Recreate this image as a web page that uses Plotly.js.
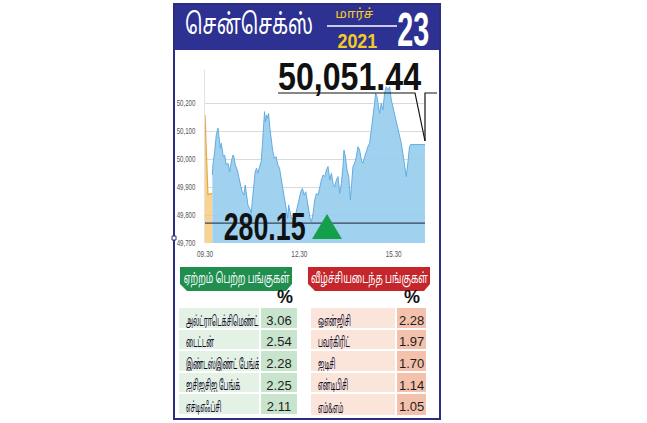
<!DOCTYPE html>
<html><head><meta charset="utf-8">
<script src="https://cdn.plot.ly/plotly-3.0.1.min.js"></script>
<style>html,body{margin:0;padding:0;background:#fff;overflow:hidden}#chart{width:647px;height:423px}</style>
</head><body><div id="chart"></div>
<script>
// ---------- data ----------
const titleText = "சென்செக்ஸ்";
const monthText = "மார்ச்";
const yearText = "2021";
const dayText = "23";
const closeValue = 50051.44;
const changeValue = 280.15;

const preOpenMinutes = [0, 1, 2.5, 4.4, 5.7, 14];
const preOpenValues  = [50157, 50090, 50025, 49932, 49873, 49877];

const sessionMinutes = [14, 15.2, 18.4, 21.6, 24.8, 26.7, 29.2, 31.1, 33, 34.9, 37.5, 40.6, 43.8, 47, 50.2, 53.3, 55.2, 57.8, 61.5, 64.1,
  67.9, 71.1, 74.3, 76.8, 79.4, 81.9, 85.1, 88.3, 90.2, 92.7, 95.9, 98.4, 101, 104.1, 107.3, 109.2, 111.8, 113.7, 115.6, 117.5,
  119.4, 121.3, 123.8, 126.3, 129.5, 132.7, 135.8, 139, 142.3, 145.3, 148.6, 151.8, 154.9, 158.1, 159.5, 161.9, 165.1, 171.4, 177.8, 182.9,
  186, 189.2, 192.4, 195.6, 198.1, 200.6, 203.2, 206.3, 209.5, 212.7, 215.9, 219, 222.2, 225.4, 228.6, 231.8, 234.9, 238.1, 241.3, 244.4,
  247.6, 250.8, 254, 257.1, 260.4, 263.4, 265.3, 268, 271.1, 274.3, 277.5, 280, 282.5, 285.7, 289, 292, 295.2, 298.5, 301.5, 304.8,
  308, 311, 314.3, 317.5, 320.6, 323.8, 325.7, 328.2, 330.9, 333.3, 336.5, 339.6, 342.9, 346, 349.2, 352.4, 355.6, 358.7, 361.9, 365.1,
  368.3, 371.4, 374.7, 377.7, 381, 384.2, 387.2, 390.5, 392.4, 420];
const sessionValues = [49943, 49979, 50026, 50086, 50110, 50074, 50038, 50056, 50026, 50008, 50014, 49979, 49985, 49955, 49990, 50014, 50008, 49979, 49961, 49943,
  49907, 49883, 49871, 49907, 49871, 49836, 49824, 49806, 49848, 49907, 49955, 49967, 49949, 49972, 49990, 50038, 50098, 50169, 50133, 50157,
  50145, 50163, 50110, 50062, 50026, 50002, 50008, 49979, 49967, 49931, 49895, 49848, 49812, 49788, 49836, 49812, 49788, 49788, 49836, 49883,
  49895, 49871, 49883, 49848, 49812, 49788, 49776, 49806, 49854, 49877, 49871, 49901, 49925, 49943, 49937, 49961, 49973, 49925, 49949, 49913,
  49901, 49925, 49937, 49877, 49913, 49973, 50032, 50008, 49961, 49937, 49854, 49913, 49973, 49985, 50008, 50044, 50032, 49996, 49985, 50008,
  50032, 50044, 50056, 50115, 50151, 50199, 50235, 50223, 50187, 50163, 50199, 50175, 50235, 50258, 50246, 50258, 50211, 50187, 50163, 50139,
  50115, 50080, 50056, 50020, 49973, 49937, 49985, 50044, 50051.44, 50051.44];

const xTickVals = [0, 180, 360];
const xTickText = ["09.30", "12.30", "15.30"];
const yTickVals = [49700, 49800, 49900, 50000, 50100, 50200];

const gainersHeader = "ஏற்றம் பெற்ற பங்குகள்";
const losersHeader = "வீழ்ச்சியடைந்த பங்குகள்";
const gainerNames = ["அல்ட்ராடெக்சிமெண்ட்", "டைட்டன்", "இண்டஸ்இண்ட் பேங்க்", "ஐசிஐசிஐ பேங்க்", "எச்டிஎஃப்சி"];
const gainerPct = ["3.06", "2.54", "2.28", "2.25", "2.11"];
const loserNames = ["ஓஎன்ஜிசி", "பவர்கிரிட்", "ஐடிசி", "என்டிபிசி", "எம்&எம்"];
const loserPct = ["2.28", "1.97", "1.70", "1.14", "1.05"];
const pctLabel = "%";

// ---------- layout helpers ----------
const W = 647, H = 423;
const X = v => v / W;
const Y = v => 1 - v / H;
const prevClose = +(closeValue - changeValue).toFixed(2);
const fmt = v => v.toLocaleString('en-US', {minimumFractionDigits: 2, maximumFractionDigits: 2});
const path = pts => pts.map((p, i) => (i ? 'L' : 'M') + X(p[0]).toFixed(5) + ',' + Y(p[1]).toFixed(5)).join(' ');
const nb = s => s.replace(/ /g, '\u00a0');

const tamil = '"Noto Sans Tamil", "Noto Sans", sans-serif';
const sans = '"Liberation Sans", Arial, sans-serif';
const clear = 'rgba(0,0,0,0)';
const EMPTY_HEADER = 16;   // height plotly gives a table without header values

const tableCommon = (names, pct, colW, fills) => ({
  type: 'table', columnwidth: colW,
  header: {values: [], fill: {color: clear}, line: {color: clear, width: 0}},
  cells: {values: [names.map(nb), pct], height: 21.6, align: ['left', 'center'],
          fill: {color: fills}, line: {color: '#ffffff', width: 2},
          font: {family: [tamil, sans], size: [14, 13], color: ['#12122e', '#1e1e1e']}}
});

const traces = [
  {type: 'scatter', mode: 'lines', x: preOpenMinutes, y: preOpenValues, fill: 'tozeroy',
   line: {color: '#e8a83e', width: 1.2}, fillcolor: 'rgba(246,196,110,0.75)', hoverinfo: 'skip'},
  {type: 'scatter', mode: 'lines', x: sessionMinutes, y: sessionValues, fill: 'tozeroy',
   line: {color: '#62ace0', width: 1}, fillcolor: 'rgba(150,205,238,0.9)', hoverinfo: 'skip'},
  Object.assign(tableCommon(gainerNames, gainerPct, [82, 38], ['#e4f1e5', '#c8e4cc']),
    {domain: {x: [X(178), X(298)], y: [Y(416), Y(307 - EMPTY_HEADER)]}}),
  Object.assign(tableCommon(loserNames, loserPct, [87, 31], ['#fbe4da', '#f4c1ac']),
    {domain: {x: [X(310), X(428)], y: [Y(416), Y(307 - EMPTY_HEADER)]}})
];

const shapes = [
  {type: 'rect', xref: 'paper', yref: 'paper', x0: X(174), x1: X(440), y0: Y(50), y1: Y(4),
   fillcolor: '#2c3192', line: {width: 0}, layer: 'below'},
  {type: 'line', xref: 'paper', yref: 'paper', x0: X(327), x1: X(397), y0: Y(26), y1: Y(26),
   line: {color: '#ffffff', width: 1.5}},
  {type: 'line', xref: 'x domain', yref: 'y', x0: 0, x1: 1, y0: prevClose, y1: prevClose,
   line: {color: '#34435a', width: 1.3}, layer: 'above'},
  {type: 'path', xref: 'paper', yref: 'paper', path: path([[278, 93], [415, 93], [425, 141]]),
   line: {color: '#111', width: 1.2}},
  {type: 'path', xref: 'paper', yref: 'paper', path: path([[425, 141], [425, 93], [437, 93]]),
   line: {color: '#111', width: 1.2}},
  {type: 'path', xref: 'paper', yref: 'paper', path: path([[312, 239], [327, 214], [342, 239]]) + ' Z',
   fillcolor: '#14a04b', line: {width: 0}},
  {type: 'path', xref: 'paper', yref: 'paper',
   path: path([[180, 267], [292, 267], [292, 284], [286, 291], [187, 291], [180, 284]]) + ' Z',
   fillcolor: '#1f8e4f', line: {width: 0}},
  {type: 'path', xref: 'paper', yref: 'paper',
   path: path([[308, 267], [430, 267], [430, 284], [424, 291], [315, 291], [308, 284]]) + ' Z',
   fillcolor: '#c4262c', line: {width: 0}},
  {type: 'rect', xref: 'paper', yref: 'paper', x0: X(174), x1: X(440), y0: Y(419), y1: Y(4),
   line: {color: '#2a2e7e', width: 2}, fillcolor: clear, layer: 'above'},
  {type: 'rect', xref: 'paper', yref: 'paper', x0: X(172), x1: X(176), y0: Y(240), y1: Y(236),
   line: {color: '#2a2e7e', width: 1}, fillcolor: '#ffffff', layer: 'above'}
];

const ann = (x, y, text, font) => ({xref: 'paper', yref: 'paper', x: X(x), y: Y(y),
  text, font, showarrow: false, xanchor: 'center', yanchor: 'middle'});

const annotations = [
  ann(249, 27, titleText, {family: tamil, size: 28, color: '#ffffff'}),
  ann(354, 15, monthText, {family: tamil, size: 13, color: '#f4cb22'}),
  ann(357, 40, '<b>' + yearText + '</b>', {family: sans, size: 21, color: '#f4cb22'}),
  ann(413, 28.5, '<b>' + dayText + '</b>', {family: sans, size: 49, color: '#ffffff'}),
  ann(349, 77, '<b>' + fmt(closeValue) + '</b>', {family: sans, size: 38, color: '#111'}),
  ann(264, 226, '<b>' + fmt(changeValue) + '</b>', {family: sans, size: 39, color: '#111'}),
  ann(236, 279, gainersHeader, {family: tamil, size: 14, color: '#ffffff'}),
  ann(369, 279, losersHeader, {family: tamil, size: 14, color: '#ffffff'}),
  ann(285, 297, '<b>' + pctLabel + '</b>', {family: sans, size: 18, color: '#111'}),
  ann(412, 297, '<b>' + pctLabel + '</b>', {family: sans, size: 18, color: '#111'})
];
// target widths (px) used to condense each annotation after drawing (null = natural)
const fitWidths = [128, 38, 40, 32, 143, 82, 106, 117, null, null];

const layout = {
  width: W, height: H, margin: {l: 0, r: 0, t: 0, b: 0},
  paper_bgcolor: '#ffffff', plot_bgcolor: clear, showlegend: false,
  xaxis: {domain: [X(205), X(425)], range: [0, 420], tickvals: xTickVals, ticktext: xTickText,
          showgrid: false, zeroline: false, showline: false, ticks: '', ticklabelstandoff: 5,
          tickfont: {family: sans, size: 8.5, color: '#555'}, fixedrange: true},
  yaxis: {domain: [Y(243), Y(70)], range: [49700, 49700 + (243 - 70) / 0.28], tickvals: yTickVals,
          tickformat: ',d', showgrid: true, gridcolor: '#dadada', gridwidth: 1, zeroline: false,
          showline: true, linecolor: '#e2e2e2', ticks: '', ticklabelstandoff: 7,
          tickfont: {family: sans, size: 8.5, color: '#555'}, fixedrange: true},
  shapes, annotations
};

function squeeze(el, sx, anchor) {
  if (!el || el.getAttribute('data-fit')) return;
  const bb = el.getBBox();
  const cx = anchor === 'left' ? bb.x : anchor === 'right' ? bb.x + bb.width : bb.x + bb.width / 2;
  const cy = bb.y + bb.height / 2;
  const prev = el.getAttribute('transform') || '';
  el.setAttribute('transform', prev + ' translate(' + cx + ',' + cy + ') scale(' + sx + ',1) translate(' + (-cx) + ',' + (-cy) + ')');
  el.setAttribute('data-fit', '1');
}

function condense() {
  annotations.forEach((a, i) => {
    const w = fitWidths[i];
    if (!w) return;
    const el = document.querySelector('#chart .annotation[data-index="' + i + '"] text.annotation-text');
    if (!el) return;
    const bw = el.getBBox().width;
    if (bw > 0) squeeze(el, w / bw, 'center');
  });
  document.querySelectorAll('#chart .ytick text').forEach(el => squeeze(el, 0.72, 'right'));
  document.querySelectorAll('#chart .xtick text').forEach(el => squeeze(el, 0.75, 'center'));
  // condense the stock-name column of both tables with one common factor
  let maxW = 0; const nameEls = [];
  document.querySelectorAll('#chart .table').forEach(t => {
    const cols = t.querySelectorAll('.y-column');
    if (!cols.length) return;
    cols[0].querySelectorAll('text.cell-text').forEach(el => { nameEls.push(el); maxW = Math.max(maxW, el.getBBox().width); });
  });
  if (maxW > 0) { const s = 74 / maxW; nameEls.forEach(el => squeeze(el, s, 'left')); }
}

Plotly.newPlot('chart', traces, layout, {staticPlot: true, displayModeBar: false}).then(condense);
</script></body></html>
